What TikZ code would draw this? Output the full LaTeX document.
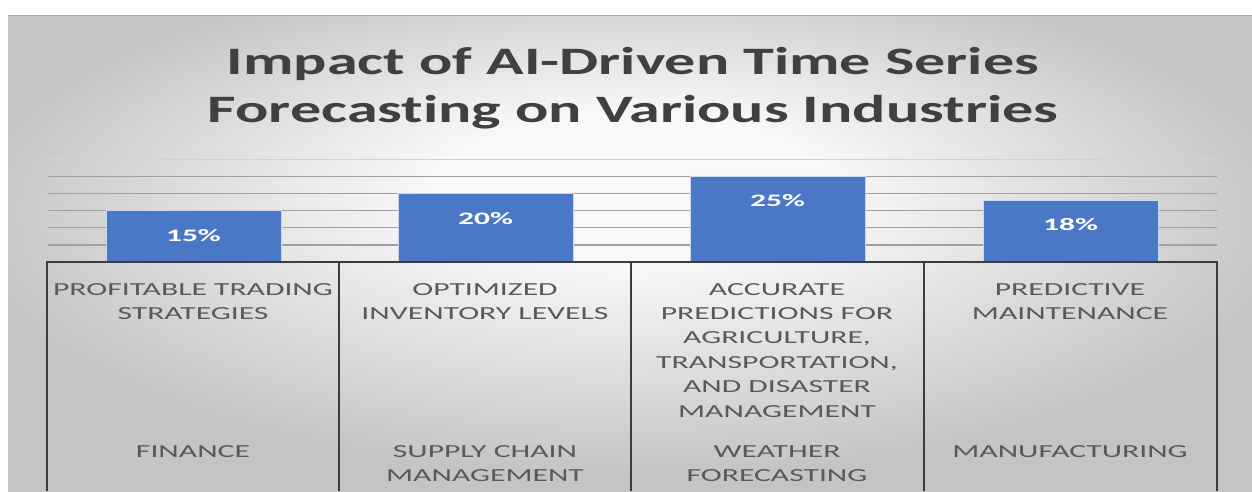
\documentclass[tikz,border=0pt]{standalone}
\usepackage{fontspec}
\newfontfamily\titlefont[FakeStretch=1.6,Ligatures=NoCommon]{Carlito}
\newfontfamily\catfont[FakeStretch=1.72,Ligatures=NoCommon]{Carlito}
\newfontfamily\pctfont[FakeStretch=1.8,Ligatures=NoCommon]{Carlito}
\definecolor{bgin}{HTML}{F8F8F8}
\definecolor{bgout}{HTML}{C4C4C4}
\definecolor{titlegray}{HTML}{404040}
\definecolor{textgray}{HTML}{595959}
\definecolor{axisgray}{HTML}{3C3C3C}
\definecolor{gridgray}{HTML}{A0A0A0}
\definecolor{barblue}{HTML}{4A78C6}
\pgfdeclareradialshading{bgshade}{\pgfpoint{0bp}{8bp}}{color(0bp)=(bgin); color(8bp)=(bgin); color(27bp)=(bgout); color(50bp)=(bgout)}
\tikzset{
  gridline/.style={draw=gridgray, line width=1.3pt},
  axisline/.style={draw=axisgray, line width=2.8pt},
  barbox/.style={fill=barblue, draw=white!70!barblue, line width=0.8pt, minimum width=175pt, inner sep=0pt, anchor=south},
  pct/.style={text=white, font={\pctfont\bfseries\fontsize{17.5}{20}\selectfont}, inner sep=0pt},
  catlabel/.style={text=textgray, font={\catfont\fontsize{18.4}{24.4}\selectfont}, align=center, inner sep=0pt, anchor=north},
}
\begin{document}
\begin{tikzpicture}[x=1pt,y=-1pt]
\useasboundingbox (0,0) rectangle (1252,491);
\fill[white] (0,0) rectangle (1252,491);
\shade[shading=bgshade] (8,15) rectangle (1252,491);
\draw[draw=gray!70, line width=1pt] (8,15) -- (1252,15);
% title
\node[text=titlegray, font={\titlefont\bfseries\fontsize{38.8}{48}\selectfont}, align=center, inner sep=0pt, anchor=north] (title) at (633,47) {Impact of AI-Driven Time Series\\Forecasting on Various Industries};
% gridlines
\draw[gridline, draw=gray!35] (48,159.4) -- (1217,159.4);
\foreach \p in {5,10,15,20,25} {
  \draw[gridline] (48,{262-3.42*\p}) -- (1217,{262-3.42*\p});
}
% bars
\node[barbox, minimum height=51.3pt] (bar1) at (193.5,262) {};
\node[barbox, minimum height=68.4pt] (bar2) at (485.5,262) {};
\node[barbox, minimum height=85.5pt] (bar3) at (777.5,262) {};
\node[barbox, minimum height=61.6pt] (bar4) at (1070.5,262) {};
\node[pct] (v1) at (193.5,235.5) {15\%};
\node[pct] (v2) at (485.5,218.5) {20\%};
\node[pct] (v3) at (777.5,201) {25\%};
\node[pct] (v4) at (1070.5,225) {18\%};
% axis box
\draw[axisline] (47,491) -- (47,262) -- (1217,262) -- (1217,491);
\foreach \x in {339,631,924} {\draw[axisline] (\x,262) -- (\x,491);}
% category labels
\node[catlabel] (d1) at (193,283) {PROFITABLE TRADING\\STRATEGIES};
\node[catlabel] (d2) at (485,283) {OPTIMIZED\\INVENTORY LEVELS};
\node[catlabel] (d3) at (777,283) {ACCURATE\\PREDICTIONS FOR\\AGRICULTURE,\\TRANSPORTATION,\\AND DISASTER\\MANAGEMENT};
\node[catlabel] (d4) at (1070,283) {PREDICTIVE\\MAINTENANCE};
\node[catlabel] (c1) at (193,445) {FINANCE};
\node[catlabel] (c2) at (485,445) {SUPPLY CHAIN\\MANAGEMENT};
\node[catlabel] (c3) at (777,445) {WEATHER\\FORECASTING};
\node[catlabel] (c4) at (1070,445) {MANUFACTURING};
\end{tikzpicture}
\end{document}
